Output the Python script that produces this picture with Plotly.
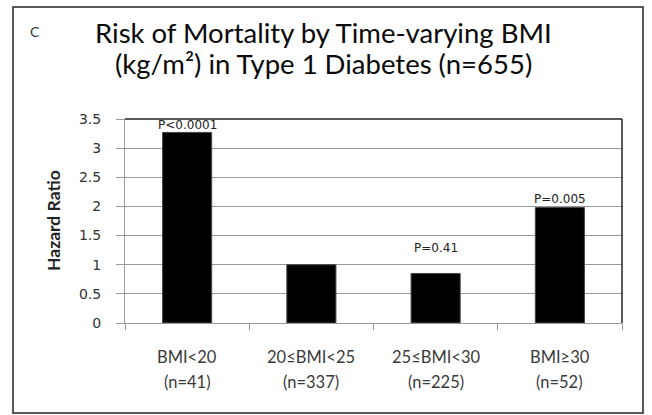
import plotly.graph_objects as go

categories = ["BMI<20", "20≤BMI<25", "25≤BMI<30", "BMI≥30"]
counts = ["(n=41)", "(n=337)", "(n=225)", "(n=52)"]
hazard_ratios = [3.27, 1.0, 0.85, 1.98]
p_labels = ["P<0.0001", "", "P=0.41", "P=0.005"]
title_lines = ["Risk of Mortality by Time-varying BMI",
               "(kg/m²) in Type 1 Diabetes (n=655)"]
y_ticks = [0, 0.5, 1, 1.5, 2, 2.5, 3, 3.5]
y_tick_text = ["0", "0.5", "1", "1.5", "2", "2.5", "3", "3.5"]

W, H = 652, 415
L, R, T, B = 125, 30, 119, 92
pw, ph = W - L - R, H - T - B


def px(x):
    return (x - L) / pw


def py(y):
    return (H - B - y) / ph


p_shift = [7, 0, 25, 9]

fig = go.Figure(go.Bar(
    x=categories, y=hazard_ratios,
    marker=dict(color="black", line=dict(color="#444", width=1)),
    width=0.395, hoverinfo="skip",
))

ann = []
for c, v, p, s in zip(categories, hazard_ratios, p_labels, p_shift):
    if p:
        ann.append(dict(x=c, y=v, xref="x", yref="y", text=p, showarrow=False,
                        yshift=s, font=dict(family="DejaVu Sans", size=12, color="#222")))
for c, n2 in zip(categories, counts):
    ann.append(dict(x=c, y=py(357), xref="x", yref="paper", text=c, showarrow=False,
                    yanchor="middle", font=dict(family="Lato", size=16.5, color="#3a3a3a")))
    ann.append(dict(x=c, y=py(382), xref="x", yref="paper", text=n2, showarrow=False,
                    yanchor="middle", font=dict(family="Lato", size=16.5, color="#3a3a3a")))
ann.append(dict(x=px(35), y=py(31), xref="paper", yref="paper", text="C",
                xanchor="center", yanchor="middle", showarrow=False,
                font=dict(family="Lato", size=14, color="#333")))
for line, yc in zip(title_lines, [33, 63]):
    ann.append(dict(x=px(323), y=py(yc), xref="paper", yref="paper", text=line,
                    xanchor="center", yanchor="middle", showarrow=False,
                    font=dict(family="Lato", size=27.5, color="#0a0a0a")))
ann.append(dict(x=px(53), y=py(221), xref="paper", yref="paper", text="<b>Hazard Ratio</b>",
                xanchor="center", yanchor="middle", textangle=-90, showarrow=False,
                font=dict(family="Lato", size=17.5, color="#222")))

shapes = [
    dict(type="rect", xref="paper", yref="paper",
         x0=px(13), x1=px(643), y0=py(413), y1=py(7),
         line=dict(color="#222", width=1.5), fillcolor="rgba(0,0,0,0)"),
    dict(type="line", xref="paper", yref="paper", x0=0, x1=1, y0=1, y1=1,
         line=dict(color="#222", width=1.5)),
    dict(type="line", xref="paper", yref="paper", x0=1, x1=1, y0=0, y1=1,
         line=dict(color="#222", width=1.5)),
]

fig.update_layout(
    width=W, height=H,
    margin=dict(l=L, r=R, t=T, b=B),
    paper_bgcolor="white", plot_bgcolor="white",
    showlegend=False,
    annotations=ann, shapes=shapes,
)
fig.update_xaxes(showticklabels=False, ticks="outside", tickson="boundaries",
                 ticklen=6, tickcolor="#999", showline=True, linecolor="#999",
                 showgrid=False)
fig.update_yaxes(range=[0, 3.5], tickvals=y_ticks, ticktext=y_tick_text,
                 ticks="outside", ticklen=8, tickcolor="#999", ticklabelstandoff=12,
                 showline=True, linecolor="#999", gridcolor="#999", gridwidth=1,
                 tickfont=dict(family="DejaVu Sans", size=14, color="#333"),
                 zeroline=False)

fig.write_html("out.html", config={"displayModeBar": False},
               post_script="document.body.style.margin='0';")
